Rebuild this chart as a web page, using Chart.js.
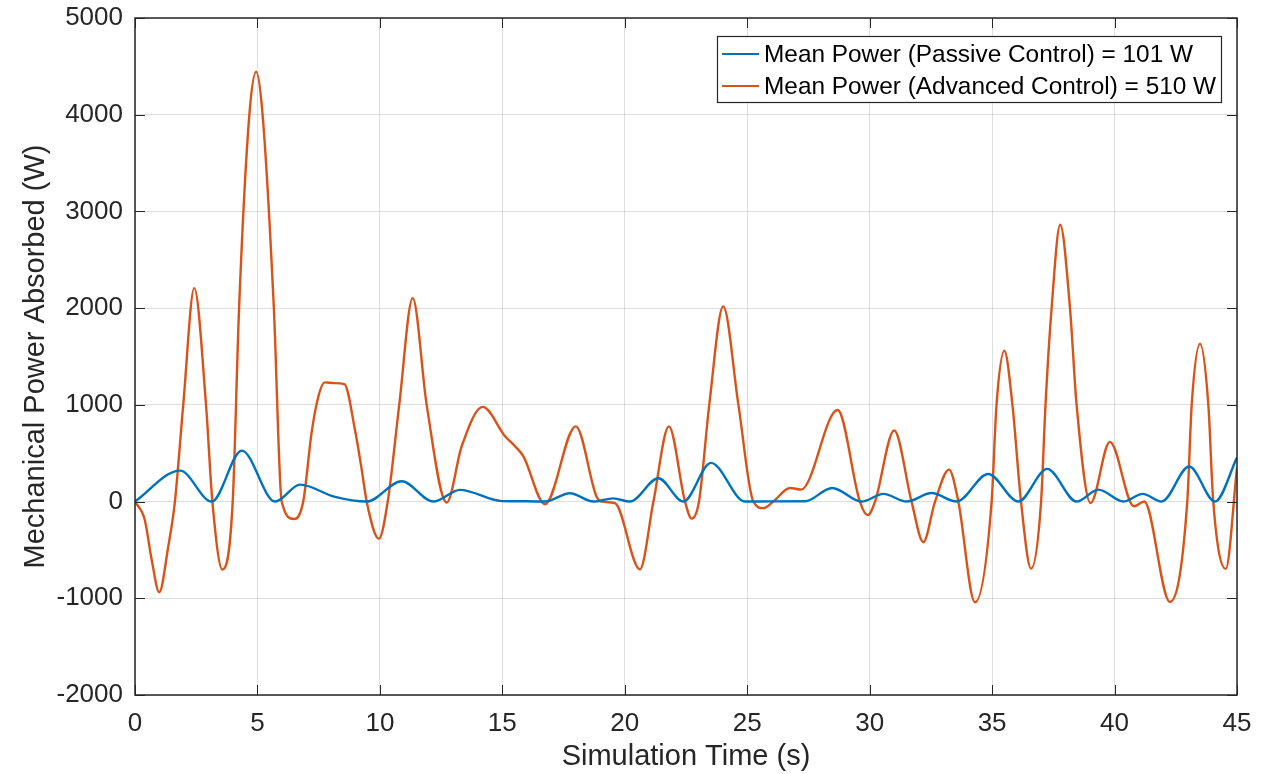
<!DOCTYPE html>
<html>
<head>
<meta charset="utf-8">
<script src="https://cdn.jsdelivr.net/npm/chart.js@4.4.1/dist/chart.umd.min.js"></script>
<style>
html,body{margin:0;padding:0;background:#fff;}
#wrap{width:1279px;height:774px;position:relative;}
</style>
</head>
<body>
<div id="wrap"><canvas id="c" width="1279" height="774"></canvas></div>
<script>
// ---- Data ----
const xTicks = [0, 5, 10, 15, 20, 25, 30, 35, 40, 45];
const yTicks = [-2000, -1000, 0, 1000, 2000, 3000, 4000, 5000];

const labelPassive = 'Mean Power (Passive Control) = 101 W';
const labelAdvanced = 'Mean Power (Advanced Control) = 510 W';

// Passive control (blue)
const tPassive = [0, 1.84, 3.13, 4.36, 5.72, 6.74, 8.17, 9.46, 10.89, 12.18, 13.27, 14.97, 16.0, 16.74, 17.76, 18.72, 19.53, 20.21, 21.37, 22.39, 23.52, 24.91, 26.0, 27.36, 28.47, 29.67, 30.56, 31.51, 32.53, 33.55, 34.84, 36.07, 37.25, 38.45, 39.34, 40.36, 41.15, 41.92, 43.05, 44.1, 45];
const pPassive = [0, 320, 0, 527, 0, 175, 48, 0, 210, 0, 121, 5, 3, 0, 86, 0, 33, 0, 241, 0, 400, 0, 2, 3, 141, 0, 80, 0, 88, 0, 285, 0, 338, 0, 124, 0, 80, 0, 362, 0, 455];

// Advanced control (orange)
const tAdvanced = [0, 0.4, 0.68, 0.99, 1.36, 1.63, 1.97, 2.42, 2.9, 3.16, 3.57, 3.99, 4.25, 4.67, 4.95, 5.21, 5.67, 5.99, 6.5, 6.87, 7.21, 7.49, 7.75, 8.15, 8.55, 8.98, 9.26, 9.46, 9.96, 10.32, 10.79, 11.34, 11.91, 12.73, 13.34, 14.2, 15.11, 15.52, 15.86, 16.74, 18.0, 18.85, 19.05, 19.6, 20.62, 21.17, 21.8, 22.46, 22.73, 23.03, 23.45, 24.02, 24.64, 25.25, 25.66, 26.06, 26.75, 27.2, 28.69, 29.6, 29.92, 30.22, 31.0, 31.71, 32.19, 32.67, 33.24, 33.62, 34.3, 34.98, 35.18, 35.5, 35.83, 36.18, 36.59, 37.0, 37.18, 37.43, 37.78, 38.18, 38.45, 39.02, 39.81, 40.79, 41.21, 42.26, 42.97, 43.15, 43.49, 43.83, 44.03, 44.54, 45];
const pAdvanced = [0, -190, -600, -937, -462, 0, 1000, 2207, 1000, 0, -703, 0, 2000, 4000, 4445, 4000, 2000, 0, -180, 0, 710, 1089, 1232, 1225, 1215, 745, 328, 0, -385, 0, 1000, 2104, 1000, -10, 572, 979, 675, 572, 468, -28, 778, 50, 0, -17, -700, 0, 778, 0, -176, 0, 1000, 2018, 1000, 0, -68, 0, 141, 124, 947, 0, -140, 0, 735, 0, -420, 0, 330, 0, -1041, 0, 1000, 1560, 1000, 0, -693, 0, 1000, 2000, 2862, 2000, 1000, -15, 617, -48, 0, -1037, 0, 1000, 1632, 1000, 0, -696, 350];

const toPts = (ts, vs) => ts.map((t, i) => ({x: t, y: vs[i]}));

const FONT = "'Liberation Sans', Arial, Helvetica, sans-serif";
const AX = '#262626';
Chart.defaults.font.family = FONT;
Chart.defaults.color = AX;

const boxPlugin = {
  id: 'matlabBox',
  afterDatasetsDraw(chart) {
    const {ctx, chartArea: {left, right, top, bottom}, scales: {x, y}} = chart;
    ctx.save();
    ctx.strokeStyle = AX;
    ctx.lineWidth = 1.5;
    ctx.strokeRect(left, top, right - left, bottom - top);
    ctx.lineWidth = 1;
    ctx.beginPath();
    xTicks.forEach(v => {
      const px = Math.round(x.getPixelForValue(v)) + 0.5;
      ctx.moveTo(px, bottom); ctx.lineTo(px, bottom - 10);
      ctx.moveTo(px, top); ctx.lineTo(px, top + 10);
    });
    yTicks.forEach(v => {
      const py = Math.round(y.getPixelForValue(v)) + 0.5;
      ctx.moveTo(left, py); ctx.lineTo(left + 10, py);
      ctx.moveTo(right, py); ctx.lineTo(right - 10, py);
    });
    ctx.stroke();

    // legend
    const lx0 = right - 520, lx1 = right - 16, ly0 = top + 18, ly1 = top + 84;
    ctx.fillStyle = '#fff';
    ctx.fillRect(lx0, ly0, lx1 - lx0, ly1 - ly0);
    ctx.strokeStyle = AX;
    ctx.lineWidth = 1.2;
    ctx.strokeRect(lx0 + 0.5, ly0 + 0.5, lx1 - lx0, ly1 - ly0);
    const rows = [ly0 + 18, ly0 + 50];
    chart.data.datasets.forEach((ds, i) => {
      const ry = rows[i];
      ctx.strokeStyle = ds.borderColor;
      ctx.lineWidth = 2;
      ctx.beginPath();
      ctx.moveTo(lx0 + 5, ry); ctx.lineTo(lx0 + 42, ry);
      ctx.stroke();
      ctx.fillStyle = '#000';
      ctx.font = '24.4px ' + FONT;
      ctx.textBaseline = 'middle';
      ctx.textAlign = 'left';
      ctx.fillText(ds.label, lx0 + 47, ry + 1);
    });
    ctx.restore();
  }
};

new Chart(document.getElementById('c'), {
  type: 'line',
  data: {
    datasets: [
      {label: labelPassive, data: toPts(tPassive, pPassive), borderColor: '#0072BD', borderWidth: 2.4, pointRadius: 0, cubicInterpolationMode: 'monotone', fill: false},
      {label: labelAdvanced, data: toPts(tAdvanced, pAdvanced), borderColor: '#D95319', borderWidth: 2.4, pointRadius: 0, cubicInterpolationMode: 'monotone', fill: false}
    ]
  },
  options: {
    responsive: false,
    animation: false,
    layout: {padding: {top: 18, right: 42, bottom: 0, left: 0}},
    plugins: {legend: {display: false}, tooltip: {enabled: false}},
    scales: {
      x: {
        type: 'linear', min: 0, max: 45,
        afterBuildTicks(s) { s.ticks = xTicks.map(v => ({value: v})); },
        afterFit(s) { s.height = 79; s.paddingLeft = 0; s.paddingRight = 0; },
        ticks: {font: {size: 26}, color: AX, padding: 13, maxRotation: 0, callback: v => String(v)},
        grid: {color: 'rgba(0,0,0,0.13)', drawTicks: false, lineWidth: 1},
        border: {display: false},
        title: {display: true, text: 'Simulation Time (s)', font: {size: 29}, color: AX, padding: {top: 0, bottom: 0}}
      },
      y: {
        type: 'linear', min: -2000, max: 5000,
        afterBuildTicks(s) { s.ticks = yTicks.map(v => ({value: v})); },
        afterFit(s) { s.width = 135; s.paddingTop = 0; s.paddingBottom = 0; },
        ticks: {font: {size: 26}, color: AX, padding: 12, callback: v => String(v)},
        grid: {color: 'rgba(0,0,0,0.13)', drawTicks: false, lineWidth: 1},
        border: {display: false},
        title: {display: true, text: 'Mechanical Power Absorbed (W)', font: {size: 29}, color: AX, padding: {top: 19, bottom: 0}}
      }
    }
  },
  plugins: [boxPlugin]
});
</script>
</body>
</html>
